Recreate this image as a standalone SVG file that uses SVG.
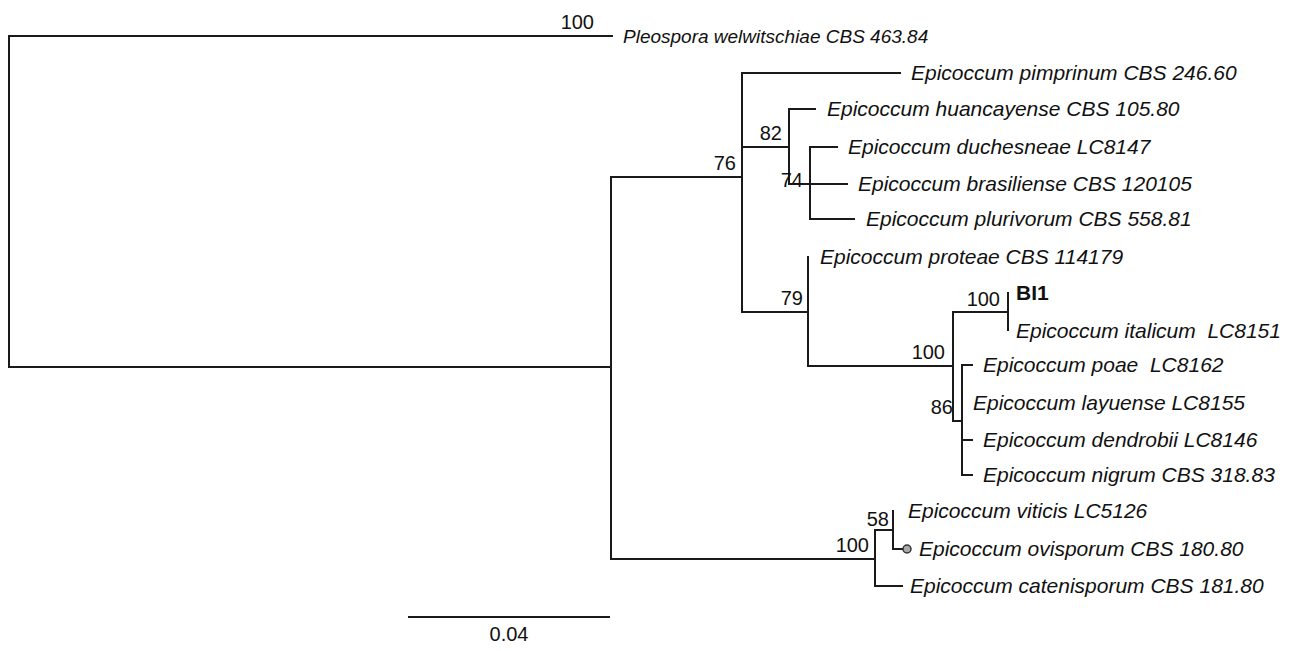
<svg xmlns="http://www.w3.org/2000/svg" width="1305" height="651" viewBox="0 0 1305 651">
<style>
.br{stroke:#1a1a1a;stroke-width:2;fill:none;stroke-linecap:square}
.tip{font-family:"Liberation Sans",Arial,sans-serif;font-style:italic;font-size:21px;fill:#111}
.bs{font-family:"Liberation Sans",Arial,sans-serif;font-size:20px;fill:#111;text-anchor:end}
.bold{font-family:"Liberation Sans",Arial,sans-serif;font-weight:bold;font-size:21px;fill:#111}
</style>
<rect width="1305" height="651" fill="#fff"/>
<g id="connectors" class="br">
  <path d="M9,36 V367 M9,36 H612 M9,367 H611"/>
  <path d="M611,177 V559 M611,177 H742 M611,559 H875"/>
  <path d="M742,73 V312 M742,73 H900 M742,147 H789 M742,312 H808"/>
  <path d="M789,109 V184 M789,109 H815 M789,184 H810"/>
  <path d="M810,147 V219 M810,147 H837 M810,184 H847 M810,219 H854"/>
  <path d="M808,257 V366 M808,366 H953"/>
  <path d="M953,312 V421 M953,312 H1008 M953,421 H962"/>
  <path d="M1008,293 V330"/>
  <path d="M962,365 V475 M962,365 H972 M962,440 H972 M962,475 H972"/>
  <path d="M875,530 V586 M875,530 H893 M875,586 H902"/>
  <path d="M893,511 V549 M893,549 H903"/>
  <path d="M409,617 H609"/>
</g>
<circle cx="907" cy="549" r="4" fill="#aaa" stroke="#333" stroke-width="1.5"/>
<g id="n-pleospora"><text class="bs" x="594" y="29">100</text><text class="tip" x="623" y="43" style="font-size:19px">Pleospora welwitschiae CBS 463.84</text></g>
<g id="n-76"><text class="bs" x="736" y="170">76</text></g>
<g id="n-pimprinum"><text class="tip" x="911" y="80">Epicoccum pimprinum CBS 246.60</text></g>
<g id="n-82"><text class="bs" x="782" y="140">82</text></g>
<g id="n-huancayense"><text class="tip" x="827" y="116">Epicoccum huancayense CBS 105.80</text></g>
<g id="n-74"><text class="bs" x="803" y="187">74</text></g>
<g id="n-duchesneae"><text class="tip" x="848" y="154">Epicoccum duchesneae LC8147</text></g>
<g id="n-brasiliense"><text class="tip" x="858" y="191">Epicoccum brasiliense CBS 120105</text></g>
<g id="n-plurivorum"><text class="tip" x="866" y="226">Epicoccum plurivorum CBS 558.81</text></g>
<g id="n-79"><text class="bs" x="803" y="305">79</text></g>
<g id="n-proteae"><text class="tip" x="820" y="264">Epicoccum proteae CBS 114179</text></g>
<g id="n-100a"><text class="bs" x="945" y="359">100</text></g>
<g id="n-100b"><text class="bs" x="1000" y="306">100</text></g>
<g id="n-bi1"><text class="bold" x="1016" y="300">BI1</text></g>
<g id="n-italicum"><text class="tip" x="1016" y="338" xml:space="preserve">Epicoccum italicum  LC8151</text></g>
<g id="n-86"><text class="bs" x="953" y="414">86</text></g>
<g id="n-poae"><text class="tip" x="983" y="372" xml:space="preserve">Epicoccum poae  LC8162</text></g>
<g id="n-layuense"><text class="tip" x="973" y="410">Epicoccum layuense LC8155</text></g>
<g id="n-dendrobii"><text class="tip" x="983" y="447">Epicoccum dendrobii LC8146</text></g>
<g id="n-nigrum"><text class="tip" x="983" y="482">Epicoccum nigrum CBS 318.83</text></g>
<g id="n-100c"><text class="bs" x="869" y="552">100</text></g>
<g id="n-58"><text class="bs" x="889" y="526">58</text></g>
<g id="n-viticis"><text class="tip" x="908" y="518">Epicoccum viticis LC5126</text></g>
<g id="n-ovisporum"><text class="tip" x="919" y="556">Epicoccum ovisporum CBS 180.80</text></g>
<g id="n-catenisporum"><text class="tip" x="910" y="593">Epicoccum catenisporum CBS 181.80</text></g>
<g id="scale"><text class="bs" x="509" y="641" style="text-anchor:middle">0.04</text></g>
</svg>
